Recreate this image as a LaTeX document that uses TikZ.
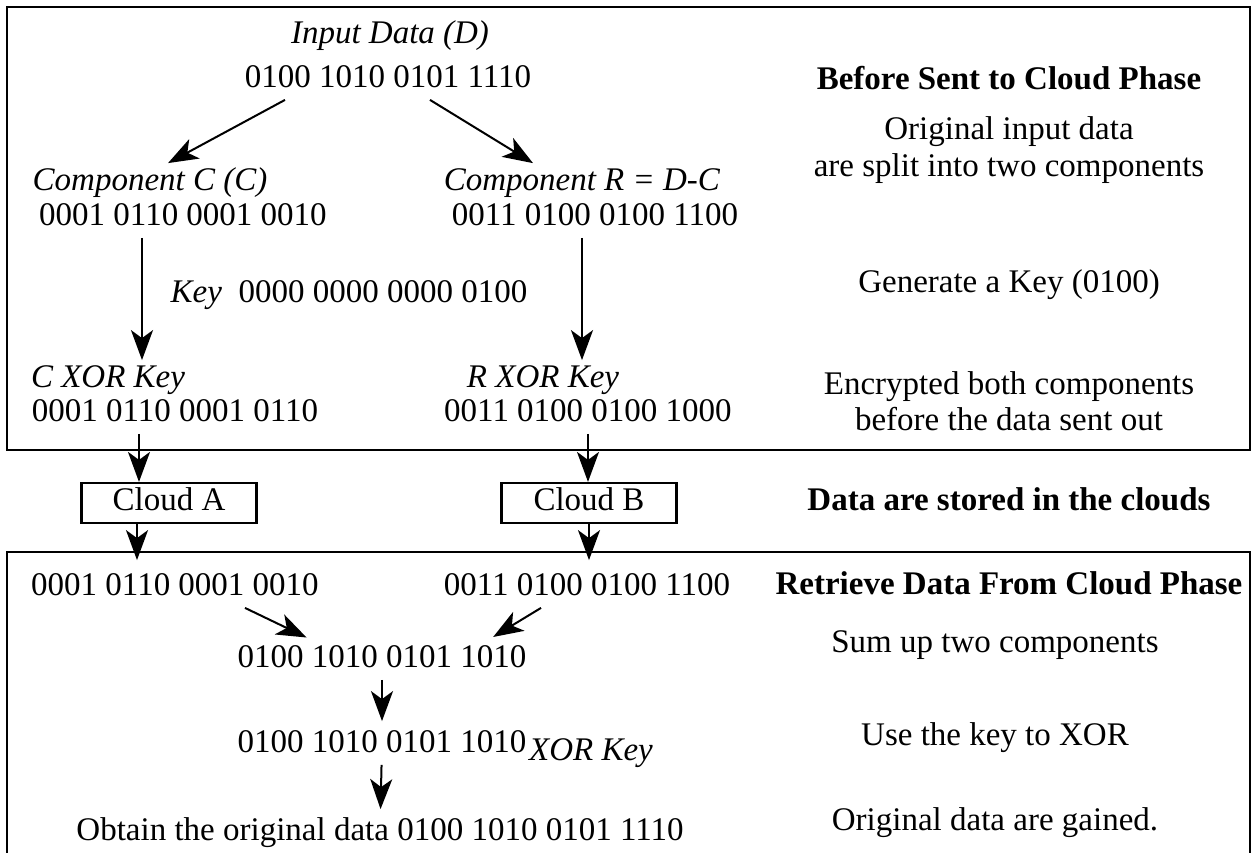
\documentclass[tikz,border=0pt]{standalone}
\usepackage{fontspec}
\setmainfont{Liberation Serif}
\usetikzlibrary{positioning,arrows.meta,calc}

\begin{document}
\begin{tikzpicture}[x=0.5pt,y=-0.5pt]
  \tikzstyle{every node}=[font=\fontsize{16.5}{18}\selectfont,inner sep=2pt,text height=11.5pt,text depth=4pt]
  \tikzstyle{head}=[font=\fontsize{16.5}{18}\selectfont\bfseries]
  \tikzstyle{cloudbox}=[draw,line width=1.1pt,minimum width=87.5pt,minimum height=20pt]
  \tikzstyle{flow}=[-{Stealth[length=15pt,width=11pt,inset=4pt]},line width=1pt]
  \tikzstyle{frame}=[line width=1.3pt]
  \useasboundingbox (0,0) rectangle (1259,852);

  % phase frames
  \draw[frame] (7,7) rectangle (1250,450);
  \draw[frame] (7,880) -- (7,552) -- (1250,552) -- (1250,880);

  % splitting the input
  \node (inD) at (390,36) {\textit{Input Data (D)}};
  \node (D) at (388,80) {0100 1010 0101 1110};
  \node (compC) at (150,183) {\textit{Component C (C)}};
  \node (C) at (183,218) {0001 0110 0001 0010};
  \node (compR) at (582,183) {\textit{Component R = D-C}};
  \node (R) at (595,218) {0011 0100 0100 1100};
  \node (key) at (349,295) {\textit{Key}\ \ 0000 0000 0000 0100};
  \node (cx) at (108,380) {\textit{C XOR Key}};
  \node (cxv) at (175,414) {0001 0110 0001 0110};
  \node (rx) at (543,380) {\textit{R XOR Key}};
  \node (rxv) at (588,414) {0011 0100 0100 1000};

  % clouds
  \node[cloudbox] (ca) at (169,503) {Cloud A};
  \node[cloudbox] (cb) at (589,503) {Cloud B};

  % retrieving
  \node (bc) at (175,588) {0001 0110 0001 0010};
  \node (br) at (587,588) {0011 0100 0100 1100};
  \node (sum) at (382,660) {0100 1010 0101 1010};
  \node (xr) at (382,745) {0100 1010 0101 1010};
  \node[right=-3pt of xr,yshift=-4pt] (xk) {\textit{XOR Key}};
  \node (out) at (380,833) {Obtain the original data 0100 1010 0101 1110};

  % phase notes
  \node[head] (p1) at (1009,82) {Before Sent to Cloud Phase};
  \node (p1a) at (1009,132) {Original input data};
  \node[below=-1.5pt of p1a] (p1b) {are split into two components};
  \node (p1c) at (1009,285) {Generate a Key (0100)};
  \node (p1d) at (1009,387) {Encrypted both components};
  \node[below=-2pt of p1d] (p1e) {before the data sent out};
  \node[head] (p2) at (1009,503) {Data are stored in the clouds};
  \node[head] (p3) at (1009,587) {Retrieve Data From Cloud Phase};
  \node (p3a) at (995,645) {Sum up two components};
  \node (p3b) at (995,738) {Use the key to XOR};
  \node (p3c) at (995,823) {Original data are gained.};

  \draw[flow] ([xshift=-51.5pt]D.south) -- ([xshift=9pt]compC.north);
  \draw[flow] ([xshift=21pt]D.south) -- ([xshift=-24.5pt]compR.north);
  \draw[flow] ([xshift=-20.5pt]C.south) -- ([xshift=-20.5pt]C.south |- cx.north);
  \draw[flow] ([xshift=-6.5pt]R.south) -- ([xshift=-6.5pt]R.south |- rx.north);
  \draw[flow] ([xshift=-18pt]cxv.south) -- ([xshift=-18pt]cxv.south |- ca.north);
  \draw[flow] (rxv.south) -- (rxv.south |- cb.north);
  \draw[flow,shorten >=4pt] ([xshift=-16pt]ca.south) -- ([xshift=-16pt]ca.south |- bc.north);
  \draw[flow,shorten >=4pt] (cb.south) -- (cb.south |- br.north);
  \draw[flow,shorten >=3pt] ([xshift=35pt]bc.south) -- ([xshift=-35pt]sum.north);
  \draw[flow,shorten >=3pt] ([xshift=-23pt]br.south) -- ([xshift=53pt]sum.north);
  \draw[flow,shorten >=2pt] (sum) -- (xr);
  \draw[flow,shorten >=2pt] (xr) -- (out);
\end{tikzpicture}
\end{document}
